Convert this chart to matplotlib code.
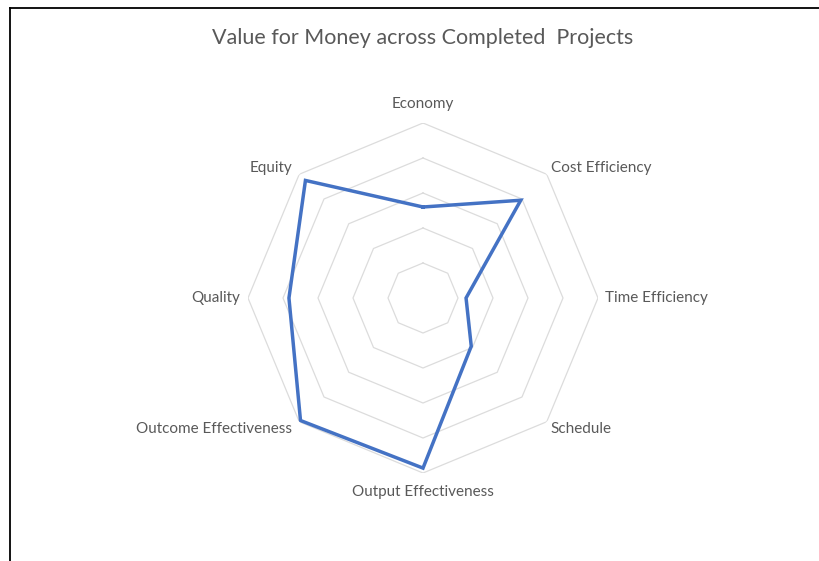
import numpy as np
import matplotlib.pyplot as plt
from matplotlib.lines import Line2D

# radar chart: value for money scores, scale 0-5
categories = ["Economy", "Cost Efficiency", "Time Efficiency", "Schedule",
              "Output Effectiveness", "Outcome Effectiveness", "Quality", "Equity"]
scores = [2.6, 3.95, 1.23, 1.95, 4.86, 4.95, 3.83, 4.75]
rings = [1, 2, 3, 4, 5]

# label offsets (pixels) and alignment around the outer ring
label_pos = [(0, 19, "center"), (4, 6, "left"), (7, 0, "left"), (4, -7, "left"),
             (0, -19, "center"), (-7, -7, "right"), (-8, 0, "right"), (-7, 6, "right")]

plt.rcParams['font.family'] = ['Lato', 'DejaVu Sans']

fig = plt.figure(figsize=(8.2, 5.61), dpi=100)
ax = fig.add_axes([(423 - 175) / 820, (561 - 298 - 175) / 561, 350 / 820, 350 / 561],
                  projection='polar')
ax.set_theta_offset(np.pi / 2)
ax.set_theta_direction(-1)
ax.set_ylim(0, 5)
ax.set_axis_off()

n = len(categories)
theta = np.linspace(0, 2 * np.pi, n, endpoint=False)
theta_c = np.append(theta, theta[0])

# octagonal grid rings
for r in rings:
    ax.plot(theta_c, [r] * (n + 1), color='#dcdcdc', lw=0.9, zorder=1)

vals = np.append(scores, scores[0])
ax.plot(theta_c, vals, color='#4472c4', lw=2.5, solid_joinstyle='miter', zorder=3)

for t, lab, (dx, dy, ha) in zip(theta, categories, label_pos):
    ax.annotate(lab, xy=(t, 5), xytext=(dx, dy), textcoords='offset pixels',
                ha=ha, va='center', fontsize=11, color='#595959')

fig.text(423 / 820, 1 - 38 / 561, "Value for Money across Completed  Projects",
         ha='center', va='center', fontsize=15.5, color='#595959')

# frame lines of the chart area
fig.add_artist(Line2D([10 / 820, 10 / 820], [0, 1 - 8 / 561], transform=fig.transFigure,
                      color='black', lw=1.3))
fig.add_artist(Line2D([10 / 820, 1], [1 - 8 / 561, 1 - 8 / 561], transform=fig.transFigure,
                      color='black', lw=1.3))

fig.savefig("out.png", dpi=100)
